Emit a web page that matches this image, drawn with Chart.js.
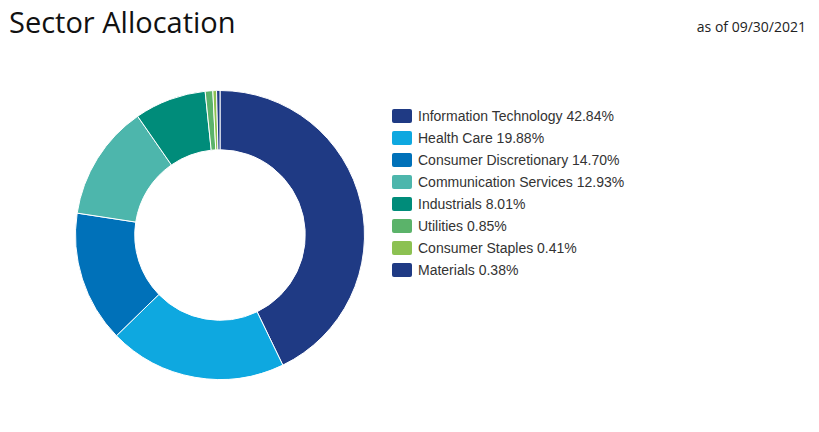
<!DOCTYPE html>
<html>
<head>
<meta charset="utf-8">
<script src="https://cdn.jsdelivr.net/npm/chart.js@4"></script>
<style>
  body { margin: 0; width: 819px; height: 432px; background: #fff; font-family: "Open Sans", "Liberation Sans", sans-serif; position: relative; overflow: hidden; }
  #title { position: absolute; left: 9px; top: 2px; font-size: 29px; color: #111; }
  #asof { position: absolute; right: 13px; top: 17px; font-size: 14px; color: #222; }
  #wrap { position: absolute; left: 75px; top: 90px; width: 290px; height: 290px; }
  #legend { position: absolute; left: 392px; top: 105px; font-size: 14px; color: #333; font-family: "Liberation Sans", Arial, sans-serif; }
  #legend div { height: 22px; display: flex; align-items: center; }
  #legend span.box { display: inline-block; width: 20px; height: 14px; border-radius: 2px; margin-right: 6px; }
</style>
</head>
<body>
<div id="title">Sector Allocation</div>
<div id="asof">as of 09/30/2021</div>
<div id="wrap"><canvas id="chart"></canvas></div>
<div id="legend"></div>
<script>
const sectors = ["Information Technology", "Health Care", "Consumer Discretionary", "Communication Services", "Industrials", "Utilities", "Consumer Staples", "Materials"];
const weights = [42.84, 19.88, 14.70, 12.93, 8.01, 0.85, 0.41, 0.38];
const colors = ["#1f3a84", "#0ea8e0", "#0071b9", "#4db6ac", "#008c7a", "#5bb36a", "#8cc152", "#1f3a84"];

let legend = document.getElementById('legend');
for (let i = 0; i < sectors.length; i++) {
    let row = document.createElement('div');
    row.innerHTML = '<span class="box" style="background:' + colors[i] + '"></span>' + sectors[i] + ' ' + weights[i].toFixed(2) + '%';
    legend.appendChild(row);
}

let ctx = document.getElementById('chart').getContext('2d');
let chart = new Chart(ctx, {
    type: 'doughnut',
    data: {
        labels: sectors,
        datasets: [{
            data: weights,
            backgroundColor: colors,
            borderColor: '#fff',
            borderWidth: 1
        }]
    },
    options: {
        responsive: true,
        maintainAspectRatio: false,
        animation: false,
        cutout: '59%',
        plugins: { legend: { display: false }, tooltip: { enabled: false } }
    }
});
</script>
</body>
</html>
